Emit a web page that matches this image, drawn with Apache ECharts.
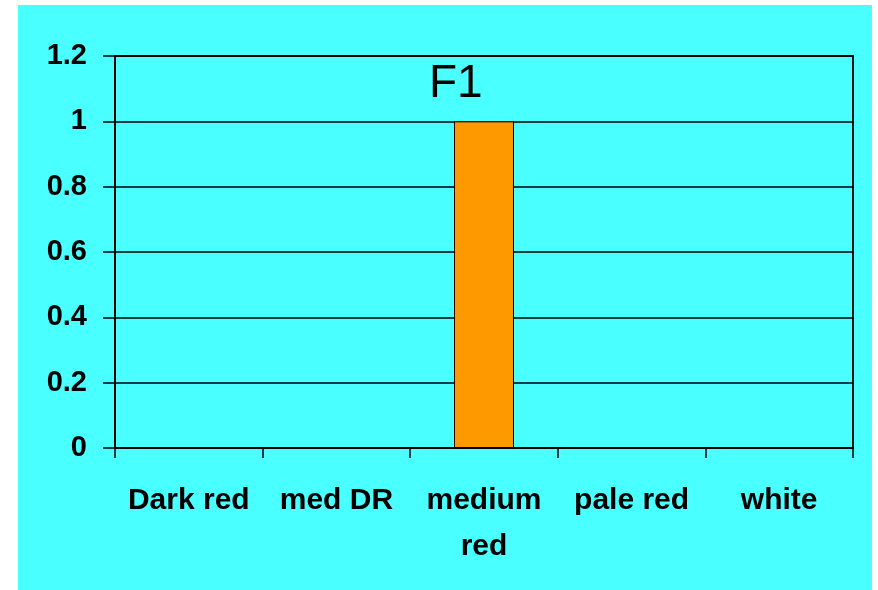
<!DOCTYPE html>
<html>
<head>
<meta charset="utf-8">
<script src="https://cdn.jsdelivr.net/npm/echarts@6/dist/echarts.min.js"></script>
<style>
html,body{margin:0;padding:0;background:#ffffff;}
#chart{width:878px;height:590px;}
</style>
</head>
<body>
<div id="chart"></div>
<script>
const categories = ["Dark red", "med DR", "medium\nred", "pale red", "white"];
const values = [0, 0, 1, 0, 0];
const chartTitle = "F1";
const yMin = 0, yMax = 1.2, yStep = 0.2;

const chart = echarts.init(document.getElementById('chart'), null, {renderer: 'canvas'});
const font = '"Liberation Sans", Arial, Helvetica, sans-serif';
chart.setOption({
  backgroundColor: '#ffffff',
  animation: false,
  graphic: [{
    type: 'rect', z: -10, silent: true,
    shape: {x: 18, y: 5, width: 854, height: 585},
    style: {fill: '#4AFFFF'}
  }],
  title: {
    text: chartTitle,
    left: 424, top: 56,
    textStyle: {fontFamily: font, fontSize: 46, fontWeight: 'normal', color: '#000'}
  },
  grid: {
    left: 115, top: 56, right: 25, bottom: 142,
    show: true, borderColor: '#000', borderWidth: 1.8, backgroundColor: 'transparent'
  },
  xAxis: {
    type: 'category',
    data: categories,
    axisLine: {lineStyle: {color: '#000', width: 1.8}},
    axisTick: {show: true, length: 10, lineStyle: {color: '#000', width: 1.5}},
    axisLabel: {
      interval: 0, margin: 30, color: '#000',
      fontFamily: font, fontSize: 30, fontWeight: 'bold', lineHeight: 46
    },
    splitLine: {show: false}
  },
  yAxis: {
    type: 'value',
    min: yMin, max: yMax, interval: yStep,
    axisLine: {show: true, lineStyle: {color: '#000', width: 1.8}},
    axisTick: {show: true, length: 12, lineStyle: {color: '#000', width: 1.5}},
    axisLabel: {
      margin: 28, color: '#000',
      fontFamily: font, fontSize: 29, fontWeight: 'bold'
    },
    splitLine: {show: true, lineStyle: {color: '#000', width: 1.6}}
  },
  series: [{
    type: 'bar',
    data: values,
    barWidth: 60,
    itemStyle: {color: '#FF9900', borderColor: '#000', borderWidth: 1}
  }]
});
</script>
</body>
</html>
